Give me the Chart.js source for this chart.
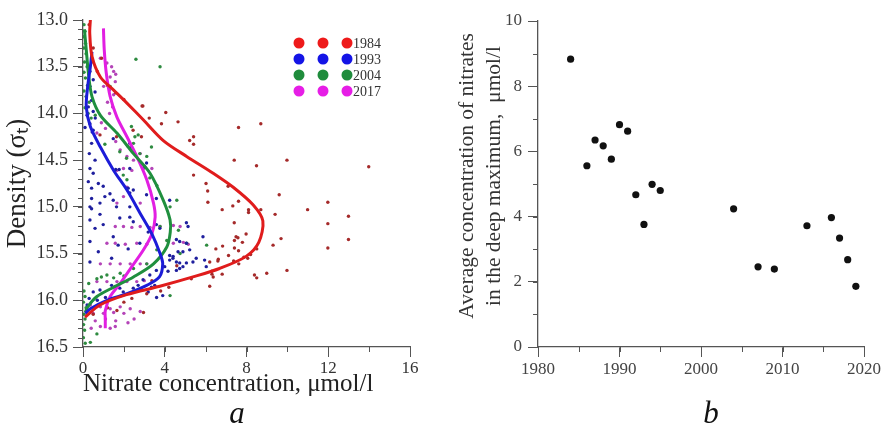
<!DOCTYPE html>
<html>
<head>
<meta charset="utf-8">
<script src="https://cdn.jsdelivr.net/npm/chart.js@4.4.1/dist/chart.umd.min.js"></script>
<style>
  body { margin: 0; background: #fff; }
  #wrap { position: relative; width: 885px; height: 438px; overflow: hidden; background: #fff; }
  canvas { position: absolute; top: 0; }
  #cA { left: 0; }
  #cB { left: 440px; }
  .tag { position: absolute; font: italic 31px "Liberation Serif", serif; color: #111; transform: translate(-50%, -50%); }
</style>
</head>
<body>
<div id="wrap">
  <canvas id="cA" width="440" height="438"></canvas>
  <canvas id="cB" width="445" height="438"></canvas>
  <div class="tag" style="left:237px; top:413px;">a</div>
  <div class="tag" style="left:711px; top:413px;">b</div>
</div>
<script>
/* ---------- data: panel a (nitrate vs density) ---------- */
const years = ['1984', '1993', '2004', '2017'];

// measured points [nitrate, density]
const pts1984 = [[2.93,13.92],[4.05,13.99],[3.24,14.05],[3.84,14.11],[4.65,14.09],[5.22,14.29],[5.41,14.25],[5.41,14.33],
  [7.61,14.15],[8.7,14.11],[7.4,14.5],[8.49,14.56],[9.98,14.5],[13.98,14.57],[5.41,14.66],[6.02,14.75],[6.1,14.83],
  [7.1,14.78],[9.6,14.87],[6.11,14.95],[6.81,15.03],[7.33,14.99],[7.61,14.94],[8.1,15.03],[8.1,15.06],[8.7,15.03],
  [9.4,15.08],[10.99,15.03],[11.98,14.95],[12.99,15.1],[11.98,15.18],[12.99,15.35],[11.98,15.44],[7.4,15.17],
  [9.69,15.34],[9.3,15.41],[8.5,15.45],[7.49,15.32],[7.58,15.33],[7.41,15.36],[7.98,15.29],[7.8,15.38],[6.83,15.42],
  [6.5,15.45],[7.41,15.44],[7.61,15.47],[7.12,15.52],[7.87,15.54],[8.06,15.55],[8.2,15.51],[6.62,15.56],[6.6,15.58],
  [7.37,15.58],[7.62,15.61],[6.2,15.59],[6.31,15.69],[6.31,15.72],[6.81,15.72],[8.99,15.71],[9.98,15.68],[8.39,15.73],
  [8.5,15.76],[6.2,15.85],[5.3,15.77],[4.59,15.63],[3.37,15.79],[2.96,16.13],[3.12,15.93],[2.39,15.98],[1.66,16.11],
  [0.91,13.41],[2.89,13.92],[0.3,13.05],[0.5,13.3],[0.7,13.55],[1.2,13.7],[1.6,13.78],[2.0,13.85],[0.83,14.23],
  [1.64,14.25],[2.45,14.18],[2.86,14.25],[4.2,15.86],[3.8,15.9],[2.0,16.02],[1.2,16.08],[0.5,16.15],[6.37,15.75]];

const pts1993 = [[0.42,13.45],[0.34,13.55],[0.5,13.64],[0.34,13.71],[0.59,13.77],[0.42,13.86],[0.26,13.93],[0.5,13.98],
  [0.2,14.02],[0.6,14.05],[0.1,14.15],[0.45,14.2],[0.34,14.11],[0.5,14.18],[0.42,14.32],[0.31,14.43],[0.59,14.5],
  [0.34,14.59],[0.5,14.64],[0.26,14.73],[0.42,14.8],[0.75,14.75],[0.99,14.78],[0.42,14.91],[0.34,15.0],[0.83,14.96],
  [1.48,14.27],[2.29,14.32],[2.37,14.36],[1.6,14.6],[1.77,14.6],[2.29,14.59],[3.11,14.53],[3.02,14.57],[2.21,14.8],
  [2.46,14.82],[2.29,14.85],[1.07,14.89],[1.32,14.86],[1.48,14.93],[3.11,14.87],[3.59,14.91],[4.24,14.93],[2.29,15.0],
  [1.64,15.0],[0.42,15.02],[0.83,15.08],[0.34,15.14],[0.59,15.23],[0.99,15.19],[1.8,15.12],[2.29,15.11],[2.46,15.16],
  [1.48,15.32],[0.34,15.37],[1.72,15.41],[2.21,15.45],[0.75,15.48],[1.4,15.55],[0.34,15.59],[2.78,15.39],[3.59,15.19],
  [3.76,15.23],[3.19,15.27],[4.73,15.37],[4.89,15.48],[4.57,15.59],[4.24,15.52],[4.4,15.55],[5.06,15.6],[4.73,15.66],
  [4.0,15.64],[4.16,15.69],[3.59,15.68],[3.27,15.73],[2.94,15.78],[2.7,15.84],[3.35,15.86],[3.51,15.84],[2.46,15.87],
  [2.86,15.89],[3.19,15.91],[1.8,15.87],[1.97,15.91],[1.4,15.84],[0.83,15.89],[0.5,15.91],[4.57,15.35],[5.06,15.39],
  [5.22,15.46],[5.54,15.55],[5.95,15.57],[5.38,15.59],[6.03,15.64],[4.89,15.64],[4.57,15.68],[4.24,15.57],[4.41,15.53],
  [4.65,15.48],[4.73,15.6],[5.87,15.32],[5.06,15.17],[5.14,15.21],[0.3,15.98],[0.7,16.0],[1.1,15.97],[0.2,16.05],
  [3.9,15.95],[3.6,15.97]];

const pts2004 = [[0.05,13.05],[0.1,13.12],[0.02,13.18],[0.12,13.25],[0.05,13.3],[0.15,13.36],[0.08,13.45],[0.2,13.5],
  [0.05,13.56],[0.12,13.62],[0.22,13.7],[0.05,13.76],[0.15,13.82],[0.3,13.88],[0.1,13.94],[0.25,14.0],[0.4,14.05],
  [0.6,14.02],[2.59,13.42],[3.77,13.5],[1.33,13.71],[1.07,14.33],[2.37,14.14],[2.54,14.25],[2.7,14.23],[1.8,14.41],
  [2.13,14.48],[2.78,14.43],[3.35,14.36],[1.97,14.66],[3.27,14.69],[2.47,14.32],[3.12,14.46],[2.15,14.71],[3.61,14.77],
  [4.59,14.93],[4.26,15.0],[3.77,15.21],[4.67,15.25],[4.1,15.36],[5.07,15.39],[6.05,15.41],[4.75,15.5],[3.61,15.46],
  [3.12,15.61],[2.47,15.66],[1.82,15.71],[1.17,15.73],[0.68,15.77],[0.28,15.82],[4.26,15.95],[0.68,16.36],[0.36,16.45],
  [0.11,16.46],[0.05,15.9],[0.1,15.96],[0.02,16.02],[0.15,16.08],[0.05,16.15],[0.1,16.2],[0.03,16.26],[0.08,16.32],
  [0.02,16.4],[1.5,15.76],[2.0,15.74],[0.9,15.75]];

const pts2017 = [[0.85,13.41],[1.17,13.46],[1.5,13.55],[1.33,13.61],[1.58,13.66],[1.01,13.71],[1.4,13.5],[1.6,13.58],
  [1.3,13.75],[1.5,13.8],[1.2,13.88],[1.45,13.93],[1.3,14.0],[0.9,14.1],[0.68,14.21],[1.1,14.16],[1.82,14.39],
  [2.15,14.46],[2.8,14.43],[2.47,14.5],[2.96,14.59],[3.37,14.59],[1.98,14.59],[2.39,14.61],[1.66,14.61],[2.2,14.35],
  [1.6,14.3],[1.66,14.96],[1.98,14.89],[2.15,14.79],[2.8,14.96],[1.58,15.21],[1.98,15.21],[2.39,15.22],[2.8,15.21],
  [3.28,15.22],[3.77,15.21],[4.42,15.2],[4.75,15.21],[1.17,15.39],[1.58,15.39],[2.07,15.4],[2.63,15.39],[3.12,15.4],
  [4.42,15.39],[4.91,15.38],[5.15,15.4],[0.85,15.61],[1.33,15.61],[1.82,15.61],[2.31,15.61],[2.8,15.61],[3.12,15.61],
  [0.68,15.8],[1.17,15.8],[1.66,15.8],[2.15,15.8],[2.63,15.8],[3.0,15.79],[0.36,16.05],[0.85,16.07],[1.33,16.09],
  [1.82,16.07],[2.31,16.09],[0.5,16.14],[1.0,16.14],[1.5,16.13],[2.0,16.14],[0.6,16.22],[1.1,16.2],[1.6,16.22],
  [2.2,16.24],[0.4,16.3],[0.85,16.28],[1.33,16.3],[1.58,16.28],[2.5,16.2],[2.8,16.12]];

// fitted profiles [nitrate, density]
const fit1984 = [[0.36,13.0],[0.33,13.14],[0.44,13.39],[0.85,13.61],[1.5,13.75],[2.15,13.89],[2.96,14.07],[3.93,14.29],
  [5.07,14.46],[6.37,14.64],[7.35,14.79],[8.33,14.98],[8.8,15.15],[8.6,15.38],[7.98,15.53],[6.68,15.66],[5.38,15.75],
  [3.76,15.85],[2.13,15.94],[0.83,16.05],[0.1,16.18]];
const fit1993 = [[0.44,13.34],[0.36,13.5],[0.23,13.71],[0.16,13.93],[0.36,14.14],[0.85,14.36],[1.5,14.61],[2.15,14.82],
  [2.8,15.07],[3.37,15.29],[3.77,15.5],[3.9,15.61],[3.74,15.75],[3.12,15.84],[2.15,15.93],[1.17,16.0],[0.36,16.09],
  [0.11,16.14]];
const fit2004 = [[0.07,13.1],[0.16,13.32],[0.28,13.6],[0.44,13.82],[0.85,14.02],[1.66,14.21],[2.47,14.43],[3.28,14.64],
  [3.93,14.93],[4.26,15.14],[4.27,15.27],[4.1,15.43],[3.45,15.61],[2.47,15.75],[1.5,15.86],[0.68,15.96],[0.23,16.07],
  [0.11,16.13]];
const fit2017 = [[1.0,13.09],[1.04,13.32],[1.14,13.57],[1.33,13.82],[1.66,14.04],[2.15,14.25],[2.63,14.46],[3.12,14.71],
  [3.45,14.96],[3.53,15.11],[3.37,15.29],[2.96,15.46],[2.39,15.64],[1.82,15.82],[1.33,15.96],[1.09,16.11],[1.09,16.2],
  [1.09,16.3]];

/* ---------- data: panel b (deep-maximum mean) ---------- */
const obsYears = [1984, 1986, 1987, 1988, 1989, 1990, 1991, 1992, 1993, 1994, 1995, 2004, 2007, 2009, 2013, 2016, 2017, 2018, 2019];
const meanNitrate = [8.83, 5.56, 6.35, 6.17, 5.76, 6.82, 6.62, 4.67, 3.76, 4.99, 4.80, 4.24, 2.46, 2.39, 3.72, 3.97, 3.34, 2.68, 1.86];

const dotColors = ['#a52a2a', '#1f1f9e', '#2e8b40', '#b444b8'];
const lineColors = ['#e01c1c', '#1c1cd8', '#1f8f3e', '#e21fe2'];
const keyColors = ['#ee1a1a', '#1414e6', '#1f8c3c', '#e61ee6'];

const FONT = '"Liberation Serif", "Times New Roman", serif';
const toXY = arr => arr.map(p => ({ x: p[0], y: p[1] }));

/* ---------- plugins ---------- */
const minorTicks = {
  id: 'minorTicks',
  afterDraw(chart, args, opts) {
    if (!opts.axes) return;
    const ctx = chart.ctx;
    ctx.save();
    ctx.strokeStyle = opts.color || '#555';
    ctx.lineWidth = 1;
    opts.axes.forEach(a => {
      const s = chart.scales[a.id];
      const n = Math.round((s.max - s.min) / a.step);
      for (let i = 0; i <= n; i++) {
        const p = Math.round(s.getPixelForValue(s.min + i * a.step)) + 0.5;
        ctx.beginPath();
        if (s.isHorizontal()) { ctx.moveTo(p, s.top); ctx.lineTo(p, s.top + a.len); }
        else { ctx.moveTo(s.right, p); ctx.lineTo(s.right - a.len, p); }
        ctx.stroke();
      }
    });
    ctx.restore();
  }
};

const dotLegend = {
  id: 'dotLegend',
  afterDraw(chart, args, opts) {
    if (!opts.items) return;
    const { ctx, chartArea } = chart;
    const x0 = chartArea.left + 216, y0 = chartArea.top + 23;
    ctx.save();
    opts.items.forEach((it, i) => {
      const y = y0 + i * 16;
      ctx.fillStyle = it.color;
      [0, 24, 48].forEach(dx => {
        ctx.beginPath();
        ctx.arc(x0 + dx, y, 5.5, 0, Math.PI * 2);
        ctx.fill();
      });
      ctx.fillStyle = '#333';
      ctx.font = '14px ' + FONT;
      ctx.textBaseline = 'middle';
      ctx.fillText(it.label, x0 + 54, y + 1);
    });
    ctx.restore();
  }
};

Chart.register(minorTicks, dotLegend);

function axisGrid() {
  return { drawOnChartArea: false, drawTicks: true, tickLength: 10, color: '#555', lineWidth: 1 };
}

/* ---------- panel a ---------- */
const pointSets = [pts1984, pts1993, pts2004, pts2017];
const fitSets = [fit1984, fit1993, fit2004, fit2017];

const dsA = [];
fitSets.forEach((f, i) => dsA.push({
  label: years[i] + ' fit', data: toXY(f), showLine: true, tension: 0.3,
  borderColor: lineColors[i], borderWidth: 3, pointRadius: 0, order: 0, clip: false
}));
pointSets.forEach((p, i) => dsA.push({
  label: years[i], data: toXY(p), showLine: false,
  backgroundColor: dotColors[i], borderWidth: 0, pointRadius: 1.7, order: 1
}));

new Chart(document.getElementById('cA'), {
  type: 'scatter',
  data: { datasets: dsA },
  options: {
    responsive: false, animation: false, devicePixelRatio: 1, events: [],
    layout: { padding: { top: 20, right: 30, left: 0, bottom: 0 } },
    plugins: {
      legend: { display: false }, tooltip: { enabled: false },
      minorTicks: { color: '#555', axes: [{ id: 'x', step: 2, len: 5 }, { id: 'y', step: 0.1, len: 5 }] },
      dotLegend: { items: years.map((y, i) => ({ label: y, color: keyColors[i] })) }
    },
    scales: {
      x: {
        type: 'linear', min: 0, max: 16,
        ticks: { stepSize: 4, color: '#333', font: { family: FONT, size: 17 }, padding: 1, maxRotation: 0 },
        grid: axisGrid(), border: { color: '#555', width: 1.3 },
        title: { display: true, text: 'Nitrate concentration, μmol/l', color: '#222', align: 'start',
          font: { family: FONT, size: 25 }, padding: { top: 0, bottom: 39 } },
        afterFit: s => { s.height = 91; }
      },
      y: {
        type: 'linear', reverse: true, min: 13, max: 16.5,
        ticks: { stepSize: 0.5, color: '#333', font: { family: FONT, size: 18 }, padding: 5,
          callback: v => Number(v).toFixed(1) },
        grid: axisGrid(), border: { color: '#555', width: 1.3 },
        title: { display: true, text: 'Density (σₜ)', color: '#222',
          font: { family: FONT, size: 27 }, padding: { top: 2, bottom: 0 } },
        afterFit: s => { s.width = 83; }
      }
    }
  }
});

/* ---------- panel b ---------- */
new Chart(document.getElementById('cB'), {
  type: 'scatter',
  data: {
    datasets: [{
      label: 'mean', data: obsYears.map((y, i) => ({ x: y, y: meanNitrate[i] })),
      backgroundColor: '#111', borderWidth: 0, pointRadius: 3.6
    }]
  },
  options: {
    responsive: false, animation: false, devicePixelRatio: 1, events: [],
    layout: { padding: { top: 21, right: 21, left: 0, bottom: 0 } },
    plugins: {
      legend: { display: false }, tooltip: { enabled: false },
      minorTicks: { color: '#555', axes: [{ id: 'x', step: 5, len: 5 }, { id: 'y', step: 1, len: 5 }] }
    },
    scales: {
      x: {
        type: 'linear', min: 1980, max: 2020,
        ticks: { stepSize: 10, color: '#444', font: { family: FONT, size: 17 }, padding: 2, maxRotation: 0,
          callback: v => String(v) },
        grid: axisGrid(), border: { color: '#555', width: 1.3 },
        afterFit: s => { s.height = 91; }
      },
      y: {
        type: 'linear', min: 0, max: 10,
        ticks: { stepSize: 2, color: '#444', font: { family: FONT, size: 17 }, padding: 6 },
        grid: axisGrid(), border: { color: '#555', width: 1.3 },
        title: { display: true,
          text: ['   Average concentration of nitrates', '   in the deep maximum,  μmol/l'],
          color: '#333', font: { family: FONT, size: 21.5, lineHeight: 1.26 }, padding: { top: 14, bottom: 0 } },
        afterFit: s => { s.width = 98; }
      }
    }
  }
});
</script>
</body>
</html>
